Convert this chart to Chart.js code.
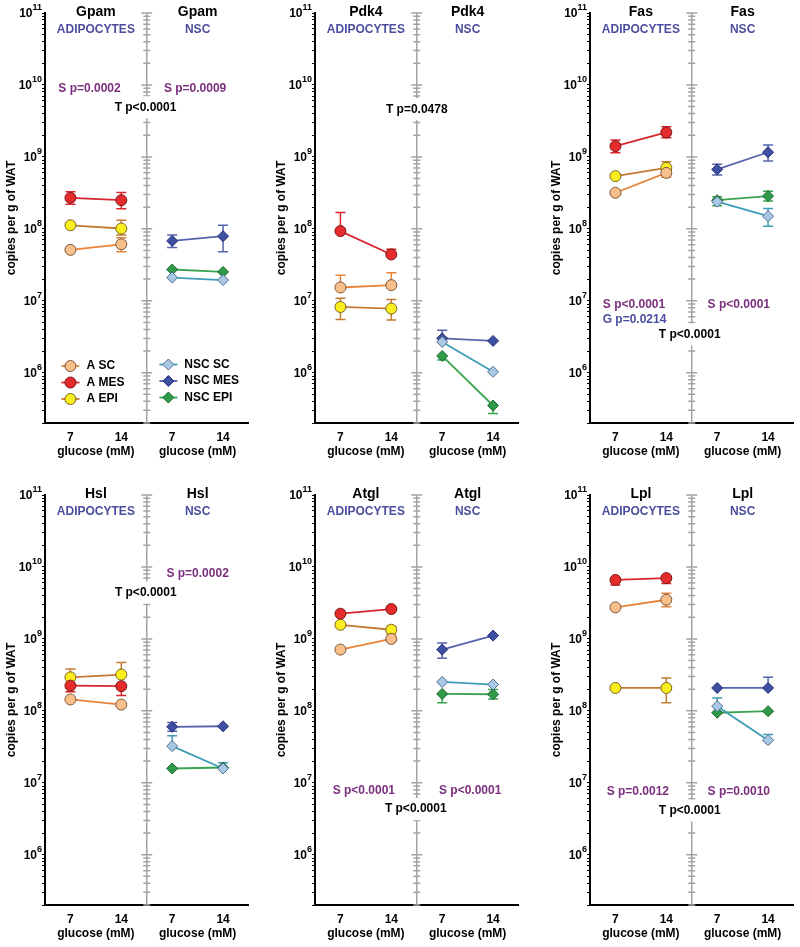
<!DOCTYPE html>
<html>
<head>
<meta charset="utf-8">
<script src="https://cdn.jsdelivr.net/npm/chart.js@4.4.1/dist/chart.umd.min.js"></script>
<style>
  html, body { margin: 0; padding: 0; background: #fff; }
  body { width: 800px; height: 947px; position: relative; overflow: hidden; }
  canvas { position: absolute; }
</style>
</head>
<body>
<script>
const GLUCOSE = ["7", "14"];
const GENES = ["Gpam", "Pdk4", "Fas", "Hsl", "Atgl", "Lpl"];
const GROUPS = ["A SC", "A MES", "A EPI", "NSC SC", "NSC MES", "NSC EPI"];
const Y_LABEL_EXPONENTS = [6, 7, 8, 9, 10, 11];

// copies per g of WAT, one row per group (order of GROUPS), one column per glucose level
const GPAM = [[5.1e7, 6.1e7], [2.7e8, 2.5e8], [1.12e8, 1.01e8], [2.1e7, 1.94e7], [6.8e7, 7.9e7], [2.72e7, 2.52e7]];
const GPAM_HI = [[null, 7.5e7], [3.27e8, 3.2e8], [null, 1.32e8], [null, null], [8.2e7, 1.12e8], [null, null]];
const GPAM_LO = [[null, 4.8e7], [2.2e8, 1.9e8], [null, 8.2e7], [null, null], [5.5e7, 4.8e7], [null, null]];

const PDK4 = [[1.53e7, 1.65e7], [9.3e7, 4.4e7], [8.2e6, 7.8e6], [2.68e6, 1.03e6], [3.0e6, 2.77e6], [1.71e6, 3.5e5]];
const PDK4_HI = [[2.27e7, 2.45e7], [1.69e8, 5.2e7], [1.08e7, 1.04e7], [null, null], [3.9e6, null], [null, null]];
const PDK4_LO = [[null, null], [null, null], [5.5e6, 5.4e6], [null, null], [null, null], [1.5e6, 2.7e5]];

const FAS = [[3.17e8, 6.0e8], [1.41e9, 2.19e9], [5.4e8, 7.05e8], [2.38e8, 1.5e8], [6.7e8, 1.16e9], [2.5e8, 2.85e8]];
const FAS_HI = [[null, null], [1.71e9, 2.62e9], [null, 8.55e8], [null, 1.92e8], [7.9e8, 1.46e9], [2.8e8, 3.34e8]];
const FAS_LO = [[null, 5.2e8], [1.14e9, 1.85e9], [null, null], [null, 1.09e8], [5.6e8, 8.8e8], [2.1e8, 2.43e8]];

const HSL = [[1.44e8, 1.22e8], [2.24e8, 2.2e8], [2.92e8, 3.19e8], [3.23e7, 1.58e7], [6.0e7, 6.1e7], [1.58e7, 1.63e7]];
const HSL_HI = [[null, null], [null, null], [3.8e8, 4.7e8], [4.5e7, 1.9e7], [6.9e7, null], [null, null]];
const HSL_LO = [[null, null], [1.84e8, 1.63e8], [null, null], [null, null], [5.2e7, null], [null, null]];

const ATGL = [[7.1e8, 1.0e9], [2.24e9, 2.6e9], [1.57e9, 1.34e9], [2.52e8, 2.32e8], [7.1e8, 1.11e9], [1.72e8, 1.7e8]];
const ATGL_HI = [[null, 1.17e9], [null, null], [null, 1.5e9], [null, null], [8.8e8, null], [null, 1.98e8]];
const ATGL_LO = [[null, null], [null, null], [null, null], [null, null], [5.4e8, null], [1.29e8, 1.46e8]];

const LPL = [[2.74e9, 3.5e9], [6.6e9, 7.0e9], [2.08e8, 2.08e8], [1.16e8, 3.9e7], [2.08e8, 2.08e8], [9.4e7, 9.9e7]];
const LPL_HI = [[null, 4.3e9], [null, null], [null, 2.87e8], [1.51e8, 4.7e7], [null, 2.92e8], [null, null]];
const LPL_LO = [[null, 2.8e9], [5.6e9, 5.9e9], [null, 1.29e8], [null, null], [null, null], [null, null]];

// statistics text written on each panel
const GPAM_NOTES = ["S p=0.0002", "S p=0.0009", "T p<0.0001"];
const PDK4_NOTES = ["T p=0.0478"];
const FAS_NOTES = ["S p<0.0001", "G p=0.0214", "S p<0.0001", "T p<0.0001"];
const HSL_NOTES = ["S p=0.0002", "T p<0.0001"];
const ATGL_NOTES = ["S p<0.0001", "S p<0.0001", "T p<0.0001"];
const LPL_NOTES = ["S p=0.0012", "S p=0.0010", "T p<0.0001"];

// ---- layout and styles ----
const FONT = "'Liberation Sans', Arial, Helvetica, sans-serif";
const PANEL_LEFT = [0, 270, 545];
const PANEL_TOP = [0, 482];
const X_ADIPO = [1, 3];
const X_NSC = [5, 7];
const CENTER_X = 4;
const BLUE_TEXT = "#4b4e9e";
const PURPLE_TEXT = "#7b2f7e";

const GROUP_STYLE = [
  { shape: "circle", fill: "#f6bf8c", edge: "#7b5535", line: "#e8843a" },
  { shape: "circle", fill: "#e52b2b", edge: "#7a1616", line: "#d8262e" },
  { shape: "circle", fill: "#fbee1e", edge: "#7a6320", line: "#c47a32" },
  { shape: "rectRot", fill: "#a9c8e6", edge: "#4d6f8e", line: "#3d9db6" },
  { shape: "rectRot", fill: "#3f4fa2", edge: "#27307a", line: "#5464ad" },
  { shape: "rectRot", fill: "#2f9a48", edge: "#1d6530", line: "#3ba450" },
];

// note placement: [x on panel scale, y value, colour]
const NOTE_PLACE = {
  Gpam: [[1.75, 9.0e9, PURPLE_TEXT], [5.9, 8.8e9, PURPLE_TEXT], [3.95, 4.9e9, "T"]],
  Pdk4: [[4.0, 4.6e9, "T"]],
  Fas: [[1.73, 8.7e6, PURPLE_TEXT], [1.75, 5.4e6, BLUE_TEXT], [5.85, 8.7e6, PURPLE_TEXT], [3.92, 3.4e6, "T"]],
  Hsl: [[6.0, 8.0e9, PURPLE_TEXT], [3.96, 4.4e9, "T"]],
  Atgl: [[1.92, 7.7e6, PURPLE_TEXT], [6.1, 7.7e6, PURPLE_TEXT], [3.96, 4.3e6, "T"]],
  Lpl: [[1.88, 7.5e6, PURPLE_TEXT], [5.85, 7.5e6, PURPLE_TEXT], [3.92, 4.1e6, "T"]],
};

const PANELS = [
  { gene: GENES[0], mean: GPAM, hi: GPAM_HI, lo: GPAM_LO, notes: GPAM_NOTES, legend: true },
  { gene: GENES[1], mean: PDK4, hi: PDK4_HI, lo: PDK4_LO, notes: PDK4_NOTES },
  { gene: GENES[2], mean: FAS, hi: FAS_HI, lo: FAS_LO, notes: FAS_NOTES },
  { gene: GENES[3], mean: HSL, hi: HSL_HI, lo: HSL_LO, notes: HSL_NOTES },
  { gene: GENES[4], mean: ATGL, hi: ATGL_HI, lo: ATGL_LO, notes: ATGL_NOTES },
  { gene: GENES[5], mean: LPL, hi: LPL_HI, lo: LPL_LO, notes: LPL_NOTES },
];

// 2e5 .. 1e11 at every 1..9 step of each decade
const Y_TICKS = [];
for (let e = 5; e <= 10; e++) {
  for (let s = 1; s <= 9; s++) {
    const v = s * Math.pow(10, e);
    if (v >= 2e5) Y_TICKS.push(v);
  }
}
Y_TICKS.push(1e11);

function isDecade(v) {
  const l = Math.log10(v);
  return Math.abs(l - Math.round(l)) < 1e-9;
}

function drawMarker(ctx, style, x, y) {
  ctx.save();
  ctx.fillStyle = style.fill;
  ctx.strokeStyle = style.edge;
  ctx.lineWidth = 1;
  ctx.beginPath();
  if (style.shape === "circle") {
    ctx.arc(x, y, 5.5, 0, Math.PI * 2);
  } else {
    ctx.moveTo(x, y - 5.5);
    ctx.lineTo(x + 5.5, y);
    ctx.lineTo(x, y + 5.5);
    ctx.lineTo(x - 5.5, y);
    ctx.closePath();
  }
  ctx.fill();
  ctx.stroke();
  ctx.restore();
}

const centerAxisPlugin = {
  id: "centerAxis",
  beforeDatasetsDraw(chart) {
    const { ctx, chartArea, scales: { x, y } } = chart;
    const px = x.getPixelForValue(CENTER_X);
    ctx.save();
    ctx.strokeStyle = "#a3a3a3";
    ctx.lineWidth = 1.5;
    ctx.beginPath();
    ctx.moveTo(px, chartArea.top);
    ctx.lineTo(px, chartArea.bottom);
    Y_TICKS.forEach((v) => {
      const py = y.getPixelForValue(v);
      const half = isDecade(v) ? 5.5 : 3.5;
      ctx.moveTo(px - half, py);
      ctx.lineTo(px + half, py);
    });
    ctx.stroke();
    ctx.restore();
  },
};

const errorBarPlugin = {
  id: "errorBars",
  beforeDatasetsDraw(chart) {
    const { ctx, scales: { x, y } } = chart;
    chart.data.datasets.forEach((ds) => {
      ctx.save();
      ctx.strokeStyle = ds.borderColor;
      ctx.lineWidth = 1.5;
      ds.data.forEach((pt, i) => {
        const px = x.getPixelForValue(pt.x);
        const py = y.getPixelForValue(pt.y);
        [ds.errHi[i], ds.errLo[i]].forEach((end) => {
          if (end == null) return;
          const pe = y.getPixelForValue(end);
          ctx.beginPath();
          ctx.moveTo(px, py);
          ctx.lineTo(px, pe);
          ctx.moveTo(px - 5, pe);
          ctx.lineTo(px + 5, pe);
          ctx.stroke();
        });
      });
      ctx.restore();
    });
  },
};

const decorPlugin = {
  id: "decor",
  afterDraw(chart) {
    const { ctx, chartArea, scales: { x, y } } = chart;
    const panel = chart.options.plugins.decor.panel;
    ctx.save();
    ctx.textBaseline = "middle";

    // y labels as 10 with a raised exponent
    Y_LABEL_EXPONENTS.forEach((e) => {
      const py = y.getPixelForValue(Math.pow(10, e));
      const right = chartArea.left - 3;
      ctx.font = `bold 9px ${FONT}`;
      const ew = ctx.measureText(String(e)).width;
      ctx.textAlign = "left";
      ctx.fillStyle = "#000";
      ctx.fillText(String(e), right - ew, py - 5);
      ctx.font = `bold 12px ${FONT}`;
      ctx.textAlign = "right";
      ctx.fillText("10", right - ew, py + 1);
    });

    // titles
    ctx.textAlign = "center";
    const leftMid = x.getPixelForValue((X_ADIPO[0] + X_ADIPO[1]) / 2);
    const rightMid = x.getPixelForValue((X_NSC[0] + X_NSC[1]) / 2);
    ctx.fillStyle = "#000";
    ctx.font = `bold 14px ${FONT}`;
    ctx.fillText(panel.gene, leftMid, chartArea.top - 1);
    ctx.fillText(panel.gene, rightMid, chartArea.top - 1);
    ctx.fillStyle = BLUE_TEXT;
    ctx.font = `bold 12px ${FONT}`;
    ctx.fillText("ADIPOCYTES", leftMid, chartArea.top + 17);
    ctx.fillText("NSC", rightMid, chartArea.top + 17);

    // x axis captions
    ctx.fillStyle = "#000";
    ctx.fillText("glucose (mM)", leftMid, chartArea.bottom + 28.5);
    ctx.fillText("glucose (mM)", rightMid, chartArea.bottom + 28.5);

    // statistics notes
    const place = NOTE_PLACE[panel.gene];
    panel.notes.forEach((text, i) => {
      const [nx, ny, colour] = place[i];
      const px = x.getPixelForValue(nx);
      const py = y.getPixelForValue(ny);
      ctx.font = `bold 12px ${FONT}`;
      if (colour === "T") {
        const w = ctx.measureText(text).width;
        ctx.fillStyle = "#fff";
        ctx.fillRect(px - w / 2 - 2, py - 11, w + 4, 22);
        ctx.fillStyle = "#000";
      } else {
        ctx.fillStyle = colour;
      }
      ctx.fillText(text, px, py);
    });

    // legend, first panel only
    if (panel.legend) {
      const offsets = [57, 40.5, 24];
      chart.data.datasets.forEach((ds, g) => {
        const st = GROUP_STYLE[g];
        const mx = g < 3 ? x.getPixelForValue(1) : x.getPixelForValue(4.85);
        const my = chartArea.bottom - offsets[g % 3] - (g < 3 ? 0 : 1.5);
        ctx.strokeStyle = st.line;
        ctx.lineWidth = 1.8;
        ctx.beginPath();
        ctx.moveTo(mx - 9, my);
        ctx.lineTo(mx + 9, my);
        ctx.stroke();
        drawMarker(ctx, st, mx, my);
        ctx.fillStyle = "#000";
        ctx.font = `bold 12px ${FONT}`;
        ctx.textAlign = "left";
        ctx.fillText(ds.label, mx + 16, my);
      });
    }
    ctx.restore();
  },
};

function buildDatasets(panel) {
  return GROUPS.map((name, g) => {
    const st = GROUP_STYLE[g];
    const xs = g < 3 ? X_ADIPO : X_NSC;
    return {
      label: name,
      data: panel.mean[g].map((v, i) => ({ x: xs[i], y: v })),
      errHi: panel.hi[g],
      errLo: panel.lo[g],
      borderColor: st.line,
      borderWidth: 1.8,
      pointStyle: st.shape,
      pointRadius: 5.5,
      pointHoverRadius: 5.5,
      pointBackgroundColor: st.fill,
      pointBorderColor: st.edge,
      pointBorderWidth: 1,
      fill: false,
      tension: 0,
      order: g,
    };
  });
}

PANELS.forEach((panel, idx) => {
  const canvas = document.createElement("canvas");
  canvas.width = 255;
  canvas.height = 465;
  canvas.style.left = PANEL_LEFT[idx % 3] + "px";
  canvas.style.top = PANEL_TOP[Math.floor(idx / 3)] + "px";
  document.body.appendChild(canvas);

  new Chart(canvas, {
    type: "line",
    data: { datasets: buildDatasets(panel) },
    options: {
      responsive: false,
      animation: false,
      events: [],
      layout: { padding: { top: 13, right: 2, left: 0, bottom: 0 } },
      plugins: {
        legend: { display: false },
        tooltip: { enabled: false },
        decor: { panel },
      },
      scales: {
        x: {
          type: "linear",
          min: 0,
          max: 8,
          afterBuildTicks: (scale) => {
            scale.ticks = X_ADIPO.concat(X_NSC).map((v) => ({ value: v }));
          },
          afterFit: (scale) => { scale.height = 42; },
          ticks: {
            autoSkip: false,
            maxRotation: 0,
            padding: 7,
            color: "#000",
            font: { family: FONT, size: 12, weight: "bold" },
            callback: (v) => {
              const i = X_ADIPO.indexOf(v) >= 0 ? X_ADIPO.indexOf(v) : X_NSC.indexOf(v);
              return GLUCOSE[i];
            },
          },
          grid: { display: false, drawTicks: false },
          border: { display: true, color: "#000", width: 2 },
        },
        y: {
          type: "logarithmic",
          min: 2e5,
          max: 1e11,
          afterBuildTicks: (scale) => {
            scale.ticks = Y_TICKS.map((v) => ({ value: v }));
          },
          afterFit: (scale) => { scale.width = 45; },
          ticks: { display: false },
          grid: {
            display: true,
            drawOnChartArea: false,
            drawTicks: true,
            tickLength: 3,
            color: "#000",
            lineWidth: 1,
          },
          border: { display: true, color: "#000", width: 2 },
          title: {
            display: true,
            text: "copies per g of WAT",
            color: "#000",
            padding: { top: 4, bottom: 0 },
            font: { family: FONT, size: 12, weight: "bold" },
          },
        },
      },
    },
    plugins: [centerAxisPlugin, errorBarPlugin, decorPlugin],
  });
});
</script>
</body>
</html>
